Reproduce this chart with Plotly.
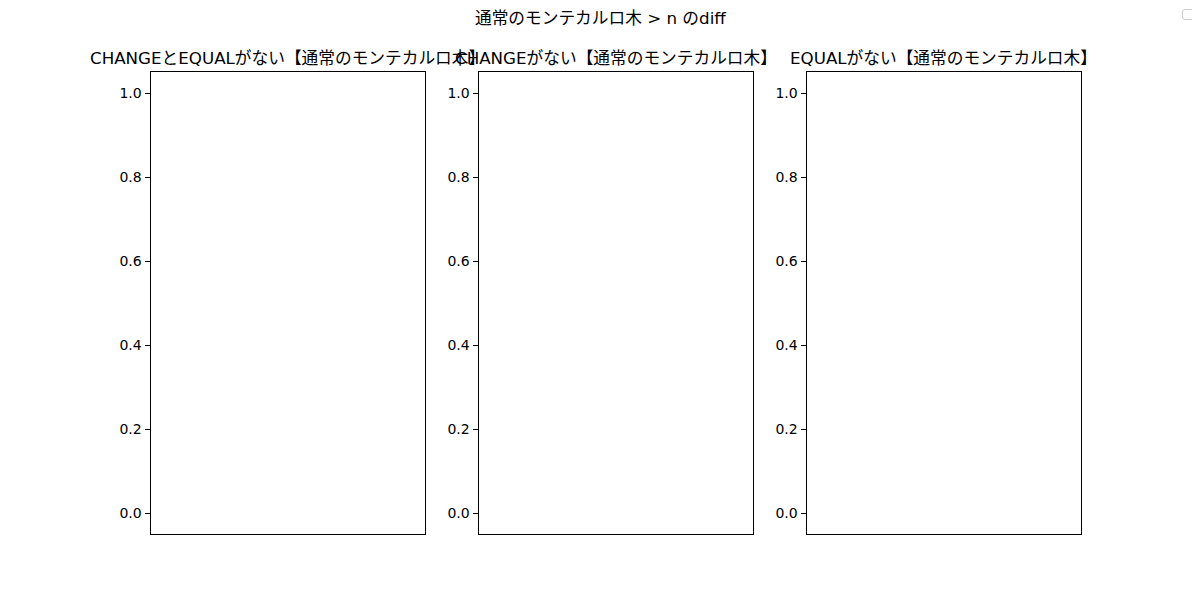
import plotly.graph_objects as go

# Data (the reference subplots are empty)
panel_titles = [
    "CHANGEとEQUALがない【通常のモンテカルロ木】",
    "CHANGEがない【通常のモンテカルロ木】",
    "EQUALがない【通常のモンテカルロ木】",
]
panel_x = [[], [], []]
panel_y = [[], [], []]
y_ticks = [0.0, 0.2, 0.4, 0.6, 0.8, 1.0]
y_tick_labels = ["0.0", "0.2", "0.4", "0.6", "0.8", "1.0"]
main_title = "通常のモンテカルロ木 > n のdiff"

# page body has an 8px margin, so the figure is drawn 8px smaller and offset
OFF = 8
W, H = 1200 - OFF, 600 - OFF
FONT = "DejaVu Sans, Noto Sans CJK JP"
x_px = [(150.5, 424.5), (478.5, 752.5), (806.5, 1080.5)]
y_px = (72, 534)


def px_x(v):
    return (v - OFF) / W


def px_y(v):
    return 1 - (v - OFF) / H


fig = go.Figure()
annotations = []
for i in range(3):
    n = "" if i == 0 else str(i + 1)
    fig.add_trace(go.Scatter(x=panel_x[i], y=panel_y[i], mode="lines",
                             xaxis="x" + n, yaxis="y" + n, showlegend=False))
    x0, x1 = x_px[i]
    fig.layout["xaxis" + n] = dict(
        domain=[px_x(x0), px_x(x1)], anchor="y" + n, range=[0, 1],
        showticklabels=False, ticks="", showgrid=False, zeroline=False,
        showline=True, linecolor="black", linewidth=1, mirror=True,
    )
    fig.layout["yaxis" + n] = dict(
        domain=[px_y(y_px[1]), px_y(y_px[0])], anchor="x" + n,
        range=[-0.05, 1.05], tickvals=y_ticks, ticktext=y_tick_labels,
        ticks="outside", ticklen=5, tickcolor="black", showgrid=False,
        zeroline=False, showline=True, linecolor="black", linewidth=1,
        mirror=True, tickfont=dict(size=14, color="black", family=FONT),
    )
    annotations.append(dict(
        text=panel_titles[i], x=px_x((x0 + x1) / 2), y=px_y(58),
        xref="paper", yref="paper", xanchor="center", yanchor="middle",
        showarrow=False, font=dict(size=16.7, color="black", family=FONT),
    ))

annotations.append(dict(
    text=main_title, x=px_x(600), y=px_y(18), xref="paper", yref="paper",
    xanchor="center", yanchor="middle", showarrow=False,
    font=dict(size=16.7, color="black", family=FONT),
))

# faint empty (rounded) legend box in the top-right corner, in pixel space
bx0, bx1, by0, by1, r = 1182.5 - OFF, 1193.5 - OFF, 9.5 - OFF, 19.5 - OFF, 2.5
path = (f"M {bx0 + r},{by0} L {bx1 - r},{by0} Q {bx1},{by0} {bx1},{by0 + r} "
        f"L {bx1},{by1 - r} Q {bx1},{by1} {bx1 - r},{by1} "
        f"L {bx0 + r},{by1} Q {bx0},{by1} {bx0},{by1 - r} "
        f"L {bx0},{by0 + r} Q {bx0},{by0} {bx0 + r},{by0} Z")
# convert pixel path to paper coords
def conv(tok_path):
    out = []
    for tok in tok_path.split():
        if "," in tok:
            a, b = tok.split(",")
            out.append(f"{float(a) / W:.6f},{1 - float(b) / H:.6f}")
        else:
            out.append(tok)
    return " ".join(out)

fig.update_layout(
    width=W, height=H, margin=dict(l=0, r=0, t=0, b=0),
    paper_bgcolor="white", plot_bgcolor="white",
    annotations=annotations,
    font=dict(family=FONT, color="black"),
    shapes=[dict(type="path", xref="paper", yref="paper", path=conv(path),
                 line=dict(color="#cccccc", width=1), fillcolor="white")],
)

fig.write_html("out.html")
